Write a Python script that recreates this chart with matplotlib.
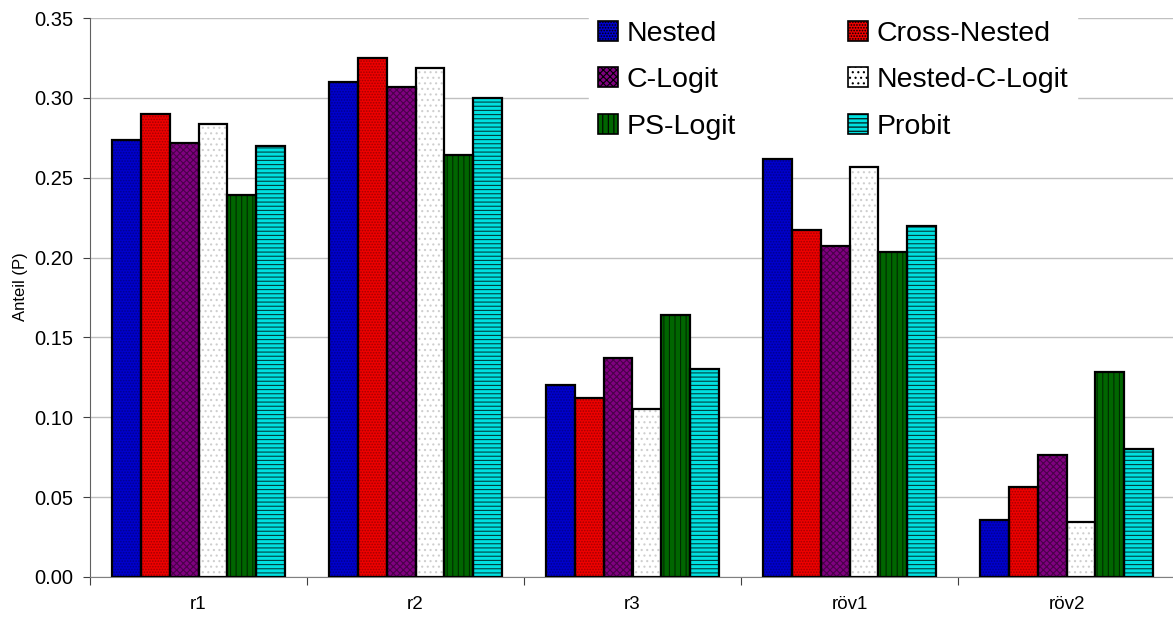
import matplotlib
matplotlib.use("Agg")
import matplotlib.pyplot as plt
from matplotlib.patches import Patch
import numpy as np

plt.rcParams['font.family'] = ['Liberation Sans', 'DejaVu Sans']
plt.rcParams['hatch.linewidth'] = 0.8

categories = ["r1", "r2", "r3", "röv1", "röv2"]
models = ["Nested", "Cross-Nested", "C-Logit", "Nested-C-Logit", "PS-Logit", "Probit"]

nested = [0.2734, 0.310, 0.120, 0.2615, 0.0355]
cross_nested = [0.290, 0.325, 0.112, 0.217, 0.0566]
c_logit = [0.272, 0.307, 0.1373, 0.2073, 0.0764]
nested_c_logit = [0.2837, 0.319, 0.105, 0.257, 0.0346]
ps_logit = [0.2394, 0.264, 0.1642, 0.2037, 0.1286]
probit = [0.2697, 0.300, 0.130, 0.220, 0.0801]

series = [nested, cross_nested, c_logit, nested_c_logit, ps_logit, probit]
# face colour, hatch, hatch colour
styles = [
    ("#0000cc", "......", "#00008a"),
    ("#ee0000", "......", "#a00000"),
    ("#800080", "xxxxx", "#4a004a"),
    ("#ffffff", "...", "#cfcfcf"),
    ("#006600", "|||", "#002a00"),
    ("#00e0e0", "----", "#004040"),
]

fig = plt.figure(figsize=(11.73, 6.22), dpi=100)
ax = fig.add_axes([90 / 1173, 45 / 622, 1085 / 1173, 559 / 622])

x = np.arange(len(categories))
width = 0.8 / 6

handles = []
for i, (vals, (fc, hatch, hc)) in enumerate(zip(series, styles)):
    pos = x - 0.4 + width * (i + 0.5)
    ax.bar(pos, vals, width, color=fc, hatch=hatch, edgecolor=hc, linewidth=0, zorder=2)
    ax.bar(pos, vals, width, fill=False, edgecolor="black", linewidth=1.6, zorder=3)
    handles.append(Patch(facecolor=fc, hatch=hatch, edgecolor="black", linewidth=1.2))

ax.set_xlim(-0.5, 4.5)
ax.set_ylim(0, 0.35)
ax.set_yticks(np.arange(0, 0.351, 0.05))
ax.set_yticklabels(["%.2f" % v for v in np.arange(0, 0.351, 0.05)], fontsize=14.5)
ax.yaxis.grid(True, color="#c0c0c0", linewidth=1.0, zorder=0)
ax.set_axisbelow(True)

# category separators as major ticks, labels on minor ticks
ax.set_xticks(np.arange(-0.5, 4.6, 1.0))
ax.set_xticklabels([])
ax.set_xticks(x, minor=True)
ax.set_xticklabels(categories, minor=True, fontsize=13.5)
ax.tick_params(axis="x", which="major", length=6, color="#404040", direction="out")
ax.tick_params(axis="x", which="minor", length=0, pad=14)
ax.tick_params(axis="y", length=5, color="#404040", pad=7)

for s in ["top", "right"]:
    ax.spines[s].set_visible(False)
ax.spines["left"].set_color("#606060")
ax.spines["bottom"].set_color("#808080")

ax.set_ylabel("Anteil (P)", fontsize=12)
ax.yaxis.set_label_coords(-0.057, 0.52)

# legend fills row by row in the reference
order = [0, 2, 4, 1, 3, 5]
leg = ax.legend([handles[k] for k in order], [models[k] for k in order],
                ncol=2, loc="upper left",
                bbox_to_anchor=(485 / 1085, 1.035), fontsize=20.5,
                frameon=True, fancybox=False, edgecolor="white", framealpha=1,
                handlelength=0.7, handleheight=0.7, handletextpad=0.3,
                columnspacing=3.95, labelspacing=0.71, borderpad=0.3)
leg.set_zorder(5)

fig.savefig("out.png", dpi=100)
